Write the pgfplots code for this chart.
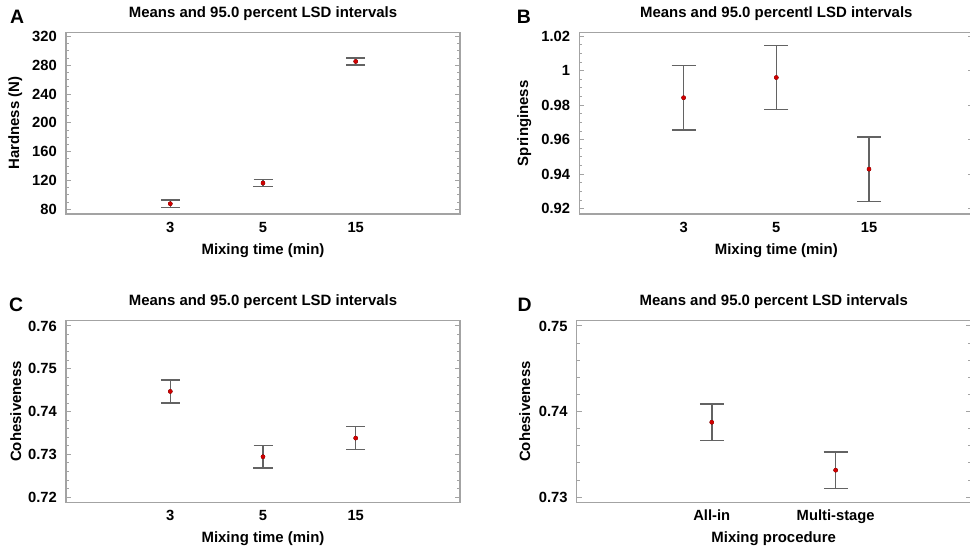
\documentclass[border=0pt]{standalone}
\usepackage{fontspec}
\setmainfont{Liberation Sans}
\usepackage{pgfplots}
\pgfplotsset{compat=1.18}
\definecolor{framegray}{HTML}{A3A3A3}
\definecolor{bargray}{HTML}{636363}
\definecolor{meanred}{HTML}{D00000}

\newcommand{\tickfont}{\bfseries\fontsize{14.8}{17}\selectfont}
\newcommand{\labfont}{\bfseries\fontsize{15}{18}\selectfont}

\pgfplotsset{
  lsd/.style={
    scale only axis, width=394bp, height=181.5bp, anchor=south west,
    axis line style={framegray, line width=1.2bp},
    tick align=inside, ytick pos=both, yticklabel pos=left,
    xtick style={draw=none},
    ytick style={framegray, line width=0.9bp},
    major tick length=5bp, minor tick length=3bp,
    xtick={0,1,2},
    tick label style={font=\tickfont, text=black},
    xticklabel style={anchor=base, yshift=-18.5bp},
    yticklabel style={anchor=east, inner sep=0pt, xshift=-9bp},
    title style={at={(axis description cs:0.5,1)}, anchor=base,
                 yshift=9.5bp, font=\labfont},
    xlabel style={at={(axis description cs:0.5,0)}, anchor=base,
                  yshift=-40.5bp, font=\labfont},
    ylabel style={anchor=base, font=\labfont},
  },
  bars/.style={
    only marks, mark=none,
    error bars/.cd, y dir=both, y explicit,
    error bar style={bargray, line width=1.5bp},
    error mark options={bargray, line width=1.5bp, rotate=90, mark size=#1},
  },
  means/.style={only marks, mark=*, mark size=2bp,
                mark options={draw=meanred, fill=meanred}},
}

\begin{document}
\begin{tikzpicture}
\useasboundingbox (0,0) rectangle (970bp,549bp);

% A: hardness
\begin{axis}[lsd, at={(66bp,335bp)},
  xmin=-1.125, xmax=3.125, xticklabels={3,5,15},
  ymin=73.5, ymax=325.6, ytick={80,120,160,200,240,280,320},
  yticklabels={80,120,160,200,240,280,320}, minor y tick num=3,
  title={Means and 95.0 percent LSD intervals},
  xlabel={Mixing time (min)}, ylabel={Hardness (N)},
  ylabel style={at={(axis description cs:-0.119,0.5)}},
]
\addplot[bars=9.5bp] coordinates {
  (0,87.8) +- (0,5.1) (1,116.5) +- (0,5.1) (2,285.4) +- (0,5.1)};
\addplot[means] coordinates {(0,87.8) (1,116.5) (2,285.4)};
\end{axis}

% B: springiness
\begin{axis}[lsd, at={(579.3bp,335bp)},
  xmin=-1.125, xmax=3.125, xticklabels={3,5,15},
  ymin=0.9169, ymax=1.0221, ytick={0.92,0.94,0.96,0.98,1,1.02},
  yticklabels={0.92,0.94,0.96,0.98,1,1.02}, minor y tick num=3,
  title={Means and 95.0 percentl LSD intervals},
  xlabel={Mixing time (min)}, ylabel={Springiness},
  ylabel style={at={(axis description cs:-0.130,0.5)}},
]
\addplot[bars=12bp] coordinates {
  (0,0.9843) +- (0,0.0187) (1,0.9960) +- (0,0.0185) (2,0.9429) +- (0,0.0187)};
\addplot[means] coordinates {(0,0.9843) (1,0.9960) (2,0.9429)};
\end{axis}

% C: cohesiveness vs mixing time
\begin{axis}[lsd, at={(66bp,46.7bp)},
  xmin=-1.125, xmax=3.125, xticklabels={3,5,15},
  ymin=0.7188, ymax=0.7612, ytick={0.72,0.73,0.74,0.75,0.76},
  yticklabels={0.72,0.73,0.74,0.75,0.76}, minor y tick num=4,
  title={Means and 95.0 percent LSD intervals},
  xlabel={Mixing time (min)}, ylabel={Cohesiveness},
  ylabel style={at={(axis description cs:-0.114,0.5)}},
]
\addplot[bars=9.5bp] coordinates {
  (0,0.7447) +- (0,0.0027) (1,0.72945) +- (0,0.00265) (2,0.7338) +- (0,0.0027)};
\addplot[means] coordinates {(0,0.7447) (1,0.72945) (2,0.7338)};
\end{axis}

% D: cohesiveness vs mixing procedure
\begin{axis}[lsd, at={(576.7bp,46.7bp)},
  xmin=-1.09, xmax=2.09, xtick={0,1}, xticklabels={All-in,Multi-stage},
  ymin=0.7294, ymax=0.7506, ytick={0.73,0.74,0.75},
  yticklabels={0.73,0.74,0.75}, minor y tick num=4,
  title={Means and 95.0 percent LSD intervals},
  xlabel={Mixing procedure}, ylabel={Cohesiveness},
  ylabel style={at={(axis description cs:-0.1185,0.5)}},
]
\addplot[bars=12bp] coordinates {
  (0,0.73875) +- (0,0.00215) (1,0.73315) +- (0,0.00215)};
\addplot[means] coordinates {(0,0.73875) (1,0.73315)};
\end{axis}

% panel letters
\node[anchor=base west, inner sep=0pt, font=\bfseries\fontsize{19.5}{22}\selectfont]
  at (10bp,525.7bp) {A};
\node[anchor=base west, inner sep=0pt, font=\bfseries\fontsize{19.5}{22}\selectfont]
  at (516.7bp,525.7bp) {B};
\node[anchor=base west, inner sep=0pt, font=\bfseries\fontsize{19.5}{22}\selectfont]
  at (9bp,237.3bp) {C};
\node[anchor=base west, inner sep=0pt, font=\bfseries\fontsize{19.5}{22}\selectfont]
  at (517.3bp,237.3bp) {D};
\end{tikzpicture}
\end{document}
